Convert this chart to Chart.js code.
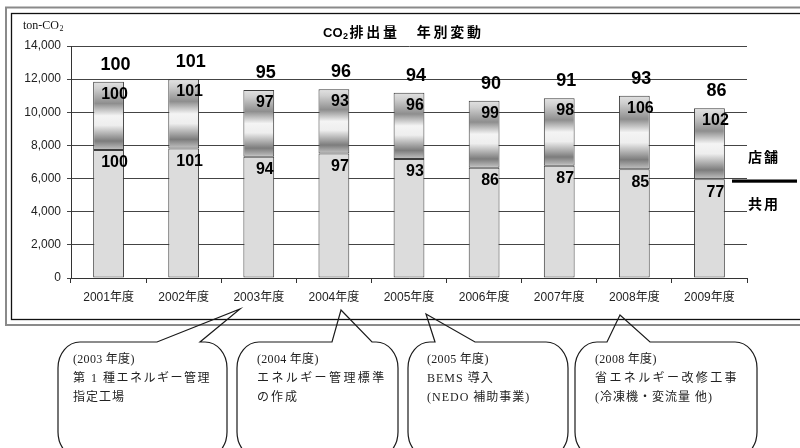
<!DOCTYPE html>
<html><head><meta charset="utf-8">
<script src="https://cdn.jsdelivr.net/npm/chart.js@4.4.1/dist/chart.umd.min.js"></script>
<style>html,body{margin:0;padding:0;background:#fff;}#wrap{position:relative;width:800px;height:448px;}canvas{display:block;}</style>
</head><body><div id="wrap"><canvas id="c" width="800" height="448"></canvas></div>
<script>
// ---- data ----
const categories = ['2001年度','2002年度','2003年度','2004年度','2005年度','2006年度','2007年度','2008年度','2009年度'];
const sharedValues = [7730, 7820, 7310, 7520, 7180, 6660, 6770, 6560, 5960];   // 共用 (ton-CO2)
const storeValues  = [4120, 4170, 4030, 3870, 4000, 4040, 4070, 4440, 4280];   // 店舗 (ton-CO2)
const totalIndex   = [100, 101, 95, 96, 94, 90, 91, 93, 86];
const storeIndex   = [100, 101, 97, 93, 96, 99, 98, 106, 102];
const sharedIndex  = [100, 101, 94, 97, 93, 86, 87, 85, 77];
const yTicks = [0, 2000, 4000, 6000, 8000, 10000, 12000, 14000];
const seriesNames = ['共用', '店舗'];
const titleMain = 'CO';
const titleSub = '2';
const titleRest = '排出量　年別変動';
const unitMain = 'ton-CO';
const unitSub = '2';
const calloutTexts = [
  ['(2003 年度)', '第 1 種エネルギー管理', '指定工場'],
  ['(2004 年度)', 'エネルギー管理標準', 'の作成'],
  ['(2005 年度)', 'BEMS 導入', '(NEDO 補助事業)'],
  ['(2008 年度)', '省エネルギー改修工事', '(冷凍機・変流量 他)']
];

// ---- layout / style ----
const calloutLayout = [
  { left: 58,  right: 227, top: 342, bottom: 458, tipX: 240, tipY: 309, baseL: 157, baseR: 200, textX: 73,  spacing: [0.3, 1.5, 1] },
  { left: 237, right: 398, top: 342, bottom: 458, tipX: 341, tipY: 310, baseL: 332, baseR: 372, textX: 257, spacing: [0.3, 2.4, 2] },
  { left: 408, right: 568, top: 342, bottom: 458, tipX: 426, tipY: 314, baseL: 435, baseR: 475, textX: 427, spacing: [0.3, 1, 1] },
  { left: 575, right: 757, top: 342, bottom: 458, tipX: 620, tipY: 315, baseL: 607, baseR: 650, textX: 595, spacing: [0.3, 2.4, 1] }
];
const SANS = "'Liberation Sans', 'Noto Sans CJK JP', sans-serif";
const SERIF = "'Liberation Serif', 'Noto Sans CJK JP', serif";

function storeGradient(ctx) {
  const chart = ctx.chart;
  const y = chart.scales && chart.scales.y;
  const i = ctx.dataIndex;
  if (!y || i === undefined || !(y.height > 0)) return '#bbbbbb';
  const top = y.getPixelForValue(sharedValues[i] + storeValues[i]);
  const bot = y.getPixelForValue(sharedValues[i]);
  if (!isFinite(top) || !isFinite(bot) || top === bot) return '#bbbbbb';
  const g = chart.ctx.createLinearGradient(0, top, 0, bot);
  g.addColorStop(0.00, '#e2e2e2');
  g.addColorStop(0.10, '#cfcfcf');
  g.addColorStop(0.32, '#8e8e8e');
  g.addColorStop(0.50, '#f4f4f4');
  g.addColorStop(0.64, '#eeeeee');
  g.addColorStop(0.87, '#7c7c7c');
  g.addColorStop(1.00, '#c4c4c4');
  return g;
}

function drawCallout(c, L) {
  const rx = 22, ry = 26, k = 0.5523;
  c.beginPath();
  c.moveTo(L.left + rx, L.top);
  c.lineTo(L.baseL, L.top);
  c.lineTo(L.tipX, L.tipY);
  c.lineTo(L.baseR, L.top);
  c.lineTo(L.right - rx, L.top);
  c.bezierCurveTo(L.right - rx + rx * k, L.top, L.right, L.top + ry - ry * k, L.right, L.top + ry);
  c.lineTo(L.right, L.bottom - ry);
  c.bezierCurveTo(L.right, L.bottom - ry + ry * k, L.right - rx + rx * k, L.bottom, L.right - rx, L.bottom);
  c.lineTo(L.left + rx, L.bottom);
  c.bezierCurveTo(L.left + rx - rx * k, L.bottom, L.left, L.bottom - ry + ry * k, L.left, L.bottom - ry);
  c.lineTo(L.left, L.top + ry);
  c.bezierCurveTo(L.left, L.top + ry - ry * k, L.left + rx - rx * k, L.top, L.left + rx, L.top);
  c.closePath();
  c.strokeStyle = '#1a1a1a';
  c.lineWidth = 1.2;
  c.stroke();
}

const decorPlugin = {
  id: 'decor',
  afterDatasetsDraw(chart) {
    const c = chart.ctx;
    const m0 = chart.getDatasetMeta(0).data;
    const m1 = chart.getDatasetMeta(1).data;
    c.save();
    c.fillStyle = '#000';
    c.textAlign = 'center';
    c.textBaseline = 'middle';
    for (let i = 0; i < categories.length; i++) {
      const s = m0[i], t = m1[i];
      c.font = 'bold 16px ' + SANS;
      c.fillText(String(sharedIndex[i]), s.x + 6, s.y + 13);
      c.fillText(String(storeIndex[i]), t.x + 6, t.y + 12.5);
      c.font = 'bold 18px ' + SANS;
      c.fillText(String(totalIndex[i]), t.x + 7, t.y - 17);
    }
    c.restore();
  },
  afterDraw(chart) {
    const c = chart.ctx;
    c.save();
    // frame
    c.strokeStyle = '#8a8a8a';
    c.lineWidth = 2;
    c.strokeRect(6, 7.5, 900, 317.5);
    c.strokeStyle = '#111';
    c.lineWidth = 1.3;
    c.strokeRect(11.5, 13.5, 900, 306);

    // title
    c.fillStyle = '#000';
    c.textBaseline = 'middle';
    c.textAlign = 'left';
    c.font = 'bold 13px ' + SANS;
    let x = 323;
    c.fillText(titleMain, x, 33);
    x += c.measureText(titleMain).width;
    c.font = 'bold 9px ' + SANS;
    c.fillText(titleSub, x + 0.5, 37);
    x += c.measureText(titleSub).width + 2;
    c.font = 'bold 14px ' + SANS;
    c.letterSpacing = '2.8px';
    c.fillText(titleRest, x, 33);
    c.letterSpacing = '0px';

    // unit label
    c.font = '12px ' + SERIF;
    c.fillStyle = '#111';
    c.fillText(unitMain, 23, 26);
    const uw = c.measureText(unitMain).width;
    c.font = '8px ' + SERIF;
    c.fillText(unitSub, 23 + uw + 0.5, 29);

    // legend (right side)
    c.fillStyle = '#000';
    c.font = 'bold 14px ' + SANS;
    c.letterSpacing = '2px';
    c.fillText(seriesNames[1], 748, 158);
    c.fillText(seriesNames[0], 748, 205);
    c.letterSpacing = '0px';
    c.fillRect(732, 179.5, 65, 3.2);

    // callouts
    for (let k = 0; k < calloutLayout.length; k++) {
      const L = calloutLayout[k];
      drawCallout(c, L);
      c.fillStyle = '#222';
      c.font = '12px ' + SERIF;
      c.textBaseline = 'middle';
      calloutTexts[k].forEach((line, j) => {
        c.letterSpacing = L.spacing[j] + 'px';
        c.fillText(line, L.textX, 360 + j * 19);
      });
      c.letterSpacing = '0px';
    }
    c.restore();
  }
};

new Chart(document.getElementById('c'), {
  type: 'bar',
  data: {
    labels: categories,
    datasets: [
      { label: seriesNames[0], data: sharedValues, backgroundColor: '#dcdcdc', borderColor: '#3c3c3c', borderWidth: 1, borderSkipped: false, categoryPercentage: 1, barPercentage: 0.41 },
      { label: seriesNames[1], data: storeValues, backgroundColor: storeGradient, borderColor: '#3c3c3c', borderWidth: 1, borderSkipped: false, categoryPercentage: 1, barPercentage: 0.41 }
    ]
  },
  options: {
    responsive: false,
    animation: false,
    devicePixelRatio: 1,
    layout: { padding: { left: 12, right: 53, top: 46, bottom: 140 } },
    plugins: { legend: { display: false }, title: { display: false }, tooltip: { enabled: false } },
    scales: {
      x: {
        stacked: true,
        offset: true,
        grid: { display: true, drawOnChartArea: false, drawTicks: true, tickLength: 5, color: '#333', offset: true },
        border: { display: true, color: '#333', width: 1 },
        ticks: { color: '#222', font: { size: 12, family: SANS }, padding: 7, maxRotation: 0, autoSkip: false },
        afterFit(s) { s.height = 30; }
      },
      y: {
        stacked: true,
        min: 0,
        max: 14000,
        afterBuildTicks(s) { s.ticks = yTicks.map(v => ({ value: v })); },
        grid: { color: '#444', lineWidth: 1, drawTicks: true, tickLength: 4 },
        border: { display: true, color: '#333', width: 1 },
        ticks: { color: '#222', font: { size: 12, family: SANS }, padding: 6, callback: v => Number(v).toLocaleString('en-US') },
        afterFit(s) { s.width = 59; }
      }
    }
  },
  plugins: [decorPlugin]
});
</script>
</body></html>
